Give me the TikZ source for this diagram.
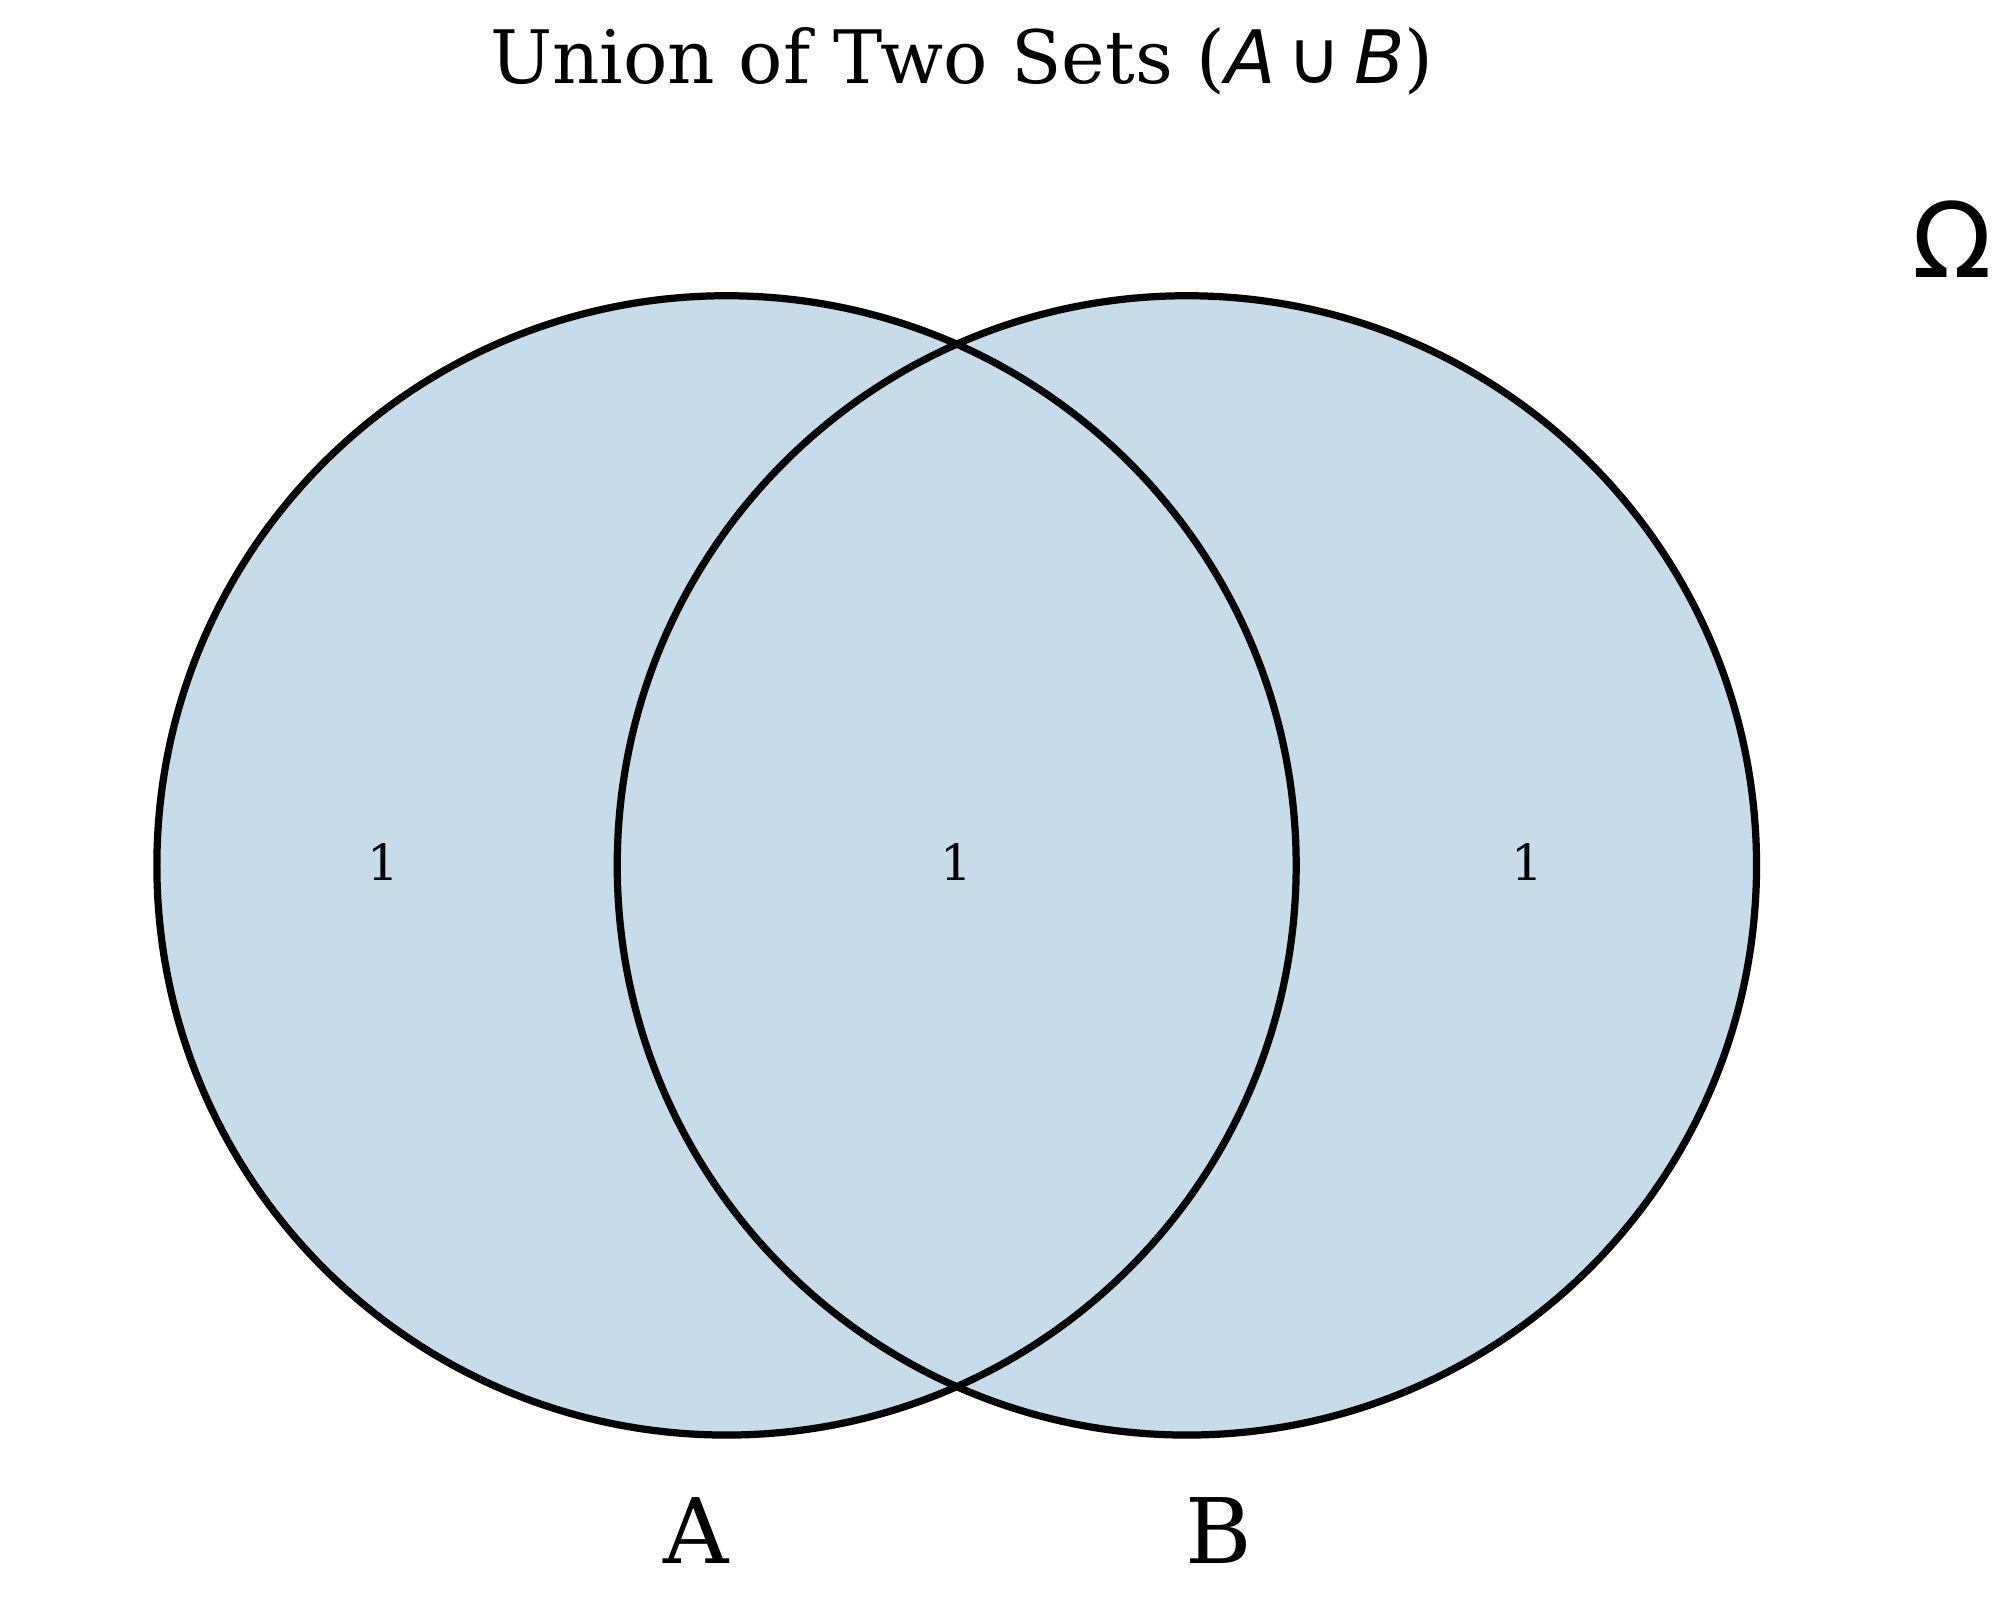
\documentclass[tikz,border=0pt]{standalone}
\usepackage{fontspec}
\setmainfont{DejaVu Serif}
\newfontfamily\dvsans{DejaVu Sans}
\definecolor{setfill}{HTML}{C6DCEA}
\begin{document}
\begin{tikzpicture}[x=0.01cm,y=-0.01cm,
  setc/.style={draw=black,line width=1.6pt},
  cnt/.style={font=\fontsize{11}{13}\selectfont},
  lab/.style={font=\fontsize{20}{24}\selectfont}]
\useasboundingbox (0,0) rectangle (1560,1243.5);
\fill[setfill] (565,673) circle (443);
\fill[setfill] (923,673) circle (443);
\draw[setc] (565,673) circle (443);
\draw[setc] (923,673) circle (443);
\node[cnt] (na) at (298,670) {1};
\node[cnt] (nab) at (744,670) {1};
\node[cnt] (nb) at (1188,670) {1};
\node[lab] (la) at (541,1190) {A};
\node[lab] (lb) at (948,1190) {B};
\node[font=\dvsans\fontsize{23}{27}\selectfont] (om) at (1518,186) {Ω};
\node[font=\fontsize{16.3}{20}\selectfont] (title) at (748,48) {Union of Two Sets ({\dvsans\itshape A}\,{\dvsans ∪}\,{\dvsans\itshape B})};
\end{tikzpicture}
\end{document}
